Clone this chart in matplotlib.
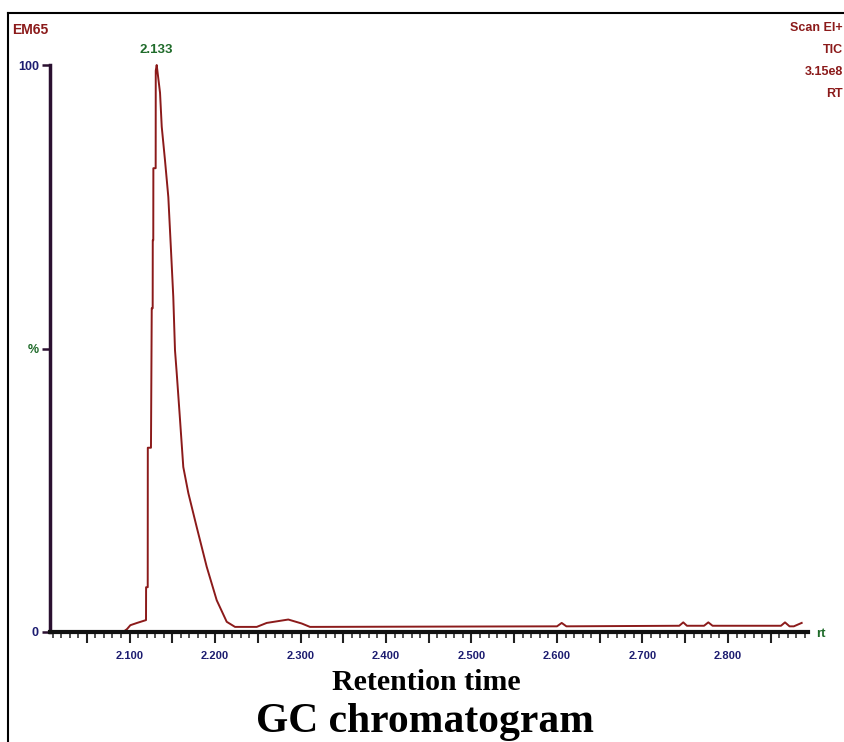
import matplotlib
matplotlib.use("Agg")
import matplotlib.pyplot as plt
from matplotlib.ticker import MultipleLocator, FuncFormatter
from matplotlib.lines import Line2D

# retention time (min) and relative intensity (%)
rt = [2.007, 2.0924, 2.097, 2.101, 2.1088, 2.1193, 2.1194, 2.1213, 2.1214,
      2.1251, 2.1260, 2.1271, 2.1272, 2.1278, 2.1279, 2.1306, 2.1307, 2.1318,
      2.1357, 2.1377, 2.1415, 2.1454, 2.1485, 2.1512, 2.1532, 2.1552, 2.1591,
      2.1629, 2.1688, 2.1786, 2.1903, 2.2020, 2.2137, 2.2234, 2.2488, 2.2605,
      2.2857, 2.3014, 2.3111, 2.600, 2.6055, 2.611, 2.743, 2.7477, 2.752,
      2.772, 2.777, 2.782, 2.862, 2.8667, 2.872, 2.877, 2.8862]
intensity = [0, 0, 0.5, 1.2, 1.6, 2.1, 7.9, 7.9, 32.5,
             32.5, 57.1, 57.1, 69.1, 69.1, 81.8, 81.8, 99, 100,
             95.1, 89.1, 83.2, 76.7, 67.4, 59.1, 49.7, 45.7, 37.4,
             29.1, 24.5, 18.5, 11.5, 5.6, 1.8, 0.9, 0.9, 1.6,
             2.2, 1.5, 0.9, 1.0, 1.6, 1.0, 1.1, 1.7, 1.1,
             1.1, 1.7, 1.1, 1.1, 1.7, 1.0, 1.0, 1.6]

peak_rt = "2.133"
header_left = "EM65"
header_right = ["Scan EI+", "TIC", "3.15e8", "RT"]

W, H = 844, 742
fig = plt.figure(figsize=(W / 100, H / 100), dpi=100)

def px(x, y):
    return x / W, 1 - y / H

narrow = ['Liberation Sans Narrow', 'Liberation Sans', 'DejaVu Sans']
serif = ['Liberation Serif', 'DejaVu Serif']
red = '#8b1a1a'
green = '#1f6b2a'
navy = '#1c1c70'

l, b = px(50, 632)
r, t = px(808, 65)
ax = fig.add_axes([l, b, r - l, t - b])
ax.plot(rt, intensity, color=red, lw=1.4, clip_on=False)
ax.set_xlim(2.007, 2.8936)
ax.set_ylim(0, 100)

for s in ['top', 'right']:
    ax.spines[s].set_visible(False)
ax.spines['left'].set_linewidth(2.5)
ax.spines['left'].set_color('#2a1030')
ax.spines['bottom'].set_linewidth(3)
ax.spines['bottom'].set_color('#111111')

ax.xaxis.set_major_locator(MultipleLocator(0.05))
ax.xaxis.set_minor_locator(MultipleLocator(0.01))

def fmt(v, pos):
    k = round(v * 100)
    return f"{v:.3f}" if k % 10 == 0 else ""

ax.xaxis.set_major_formatter(FuncFormatter(fmt))
ax.tick_params(axis='x', which='major', length=8, width=1.5, color='#222222',
               labelsize=8, labelcolor=navy, pad=6)
ax.tick_params(axis='x', which='minor', length=4, width=1.2, color='#333333')
for lab in ax.get_xticklabels():
    lab.set_family(narrow)
    lab.set_fontweight('bold')

ax.set_yticks([0, 50, 100])
ax.set_yticklabels(["0", "%", "100"])
ax.tick_params(axis='y', length=6, width=1.8, color='#2a1030', labelsize=9, pad=2)
for lab, c in zip(ax.get_yticklabels(), [navy, green, navy]):
    lab.set_color(c)
    lab.set_family(narrow)
    lab.set_fontweight('bold')

fig.text(*px(12, 30), header_left, color=red, fontsize=10, fontweight='bold',
         family=narrow, va='center', ha='left')
ax.text(2.1318, 101.5, peak_rt, color=green, fontsize=9.5, fontweight='bold',
        family=narrow, ha='center', va='bottom')
for i, s in enumerate(header_right):
    fig.text(*px(843, 28 + 22 * i), s, color=red, fontsize=9, fontweight='bold',
             family=narrow, ha='right', va='center')
fig.text(*px(816, 634), "rt", color=green, fontsize=9.5, fontweight='bold',
         family=narrow, ha='left', va='center')

fig.text(*px(426, 683), "Retention time", fontsize=21.5, fontweight='bold',
         family=serif, ha='center', va='center')
fig.text(*px(425, 722), "GC chromatogram", fontsize=30, fontweight='bold',
         family=serif, ha='center', va='center')

# outer frame (top and left edges)
fig.add_artist(Line2D([8 / W, 1], [1 - 13 / H, 1 - 13 / H], color='black', lw=1.5))
fig.add_artist(Line2D([8 / W, 8 / W], [0, 1 - 13 / H], color='black', lw=1.5))

fig.savefig("out.png", dpi=100)
